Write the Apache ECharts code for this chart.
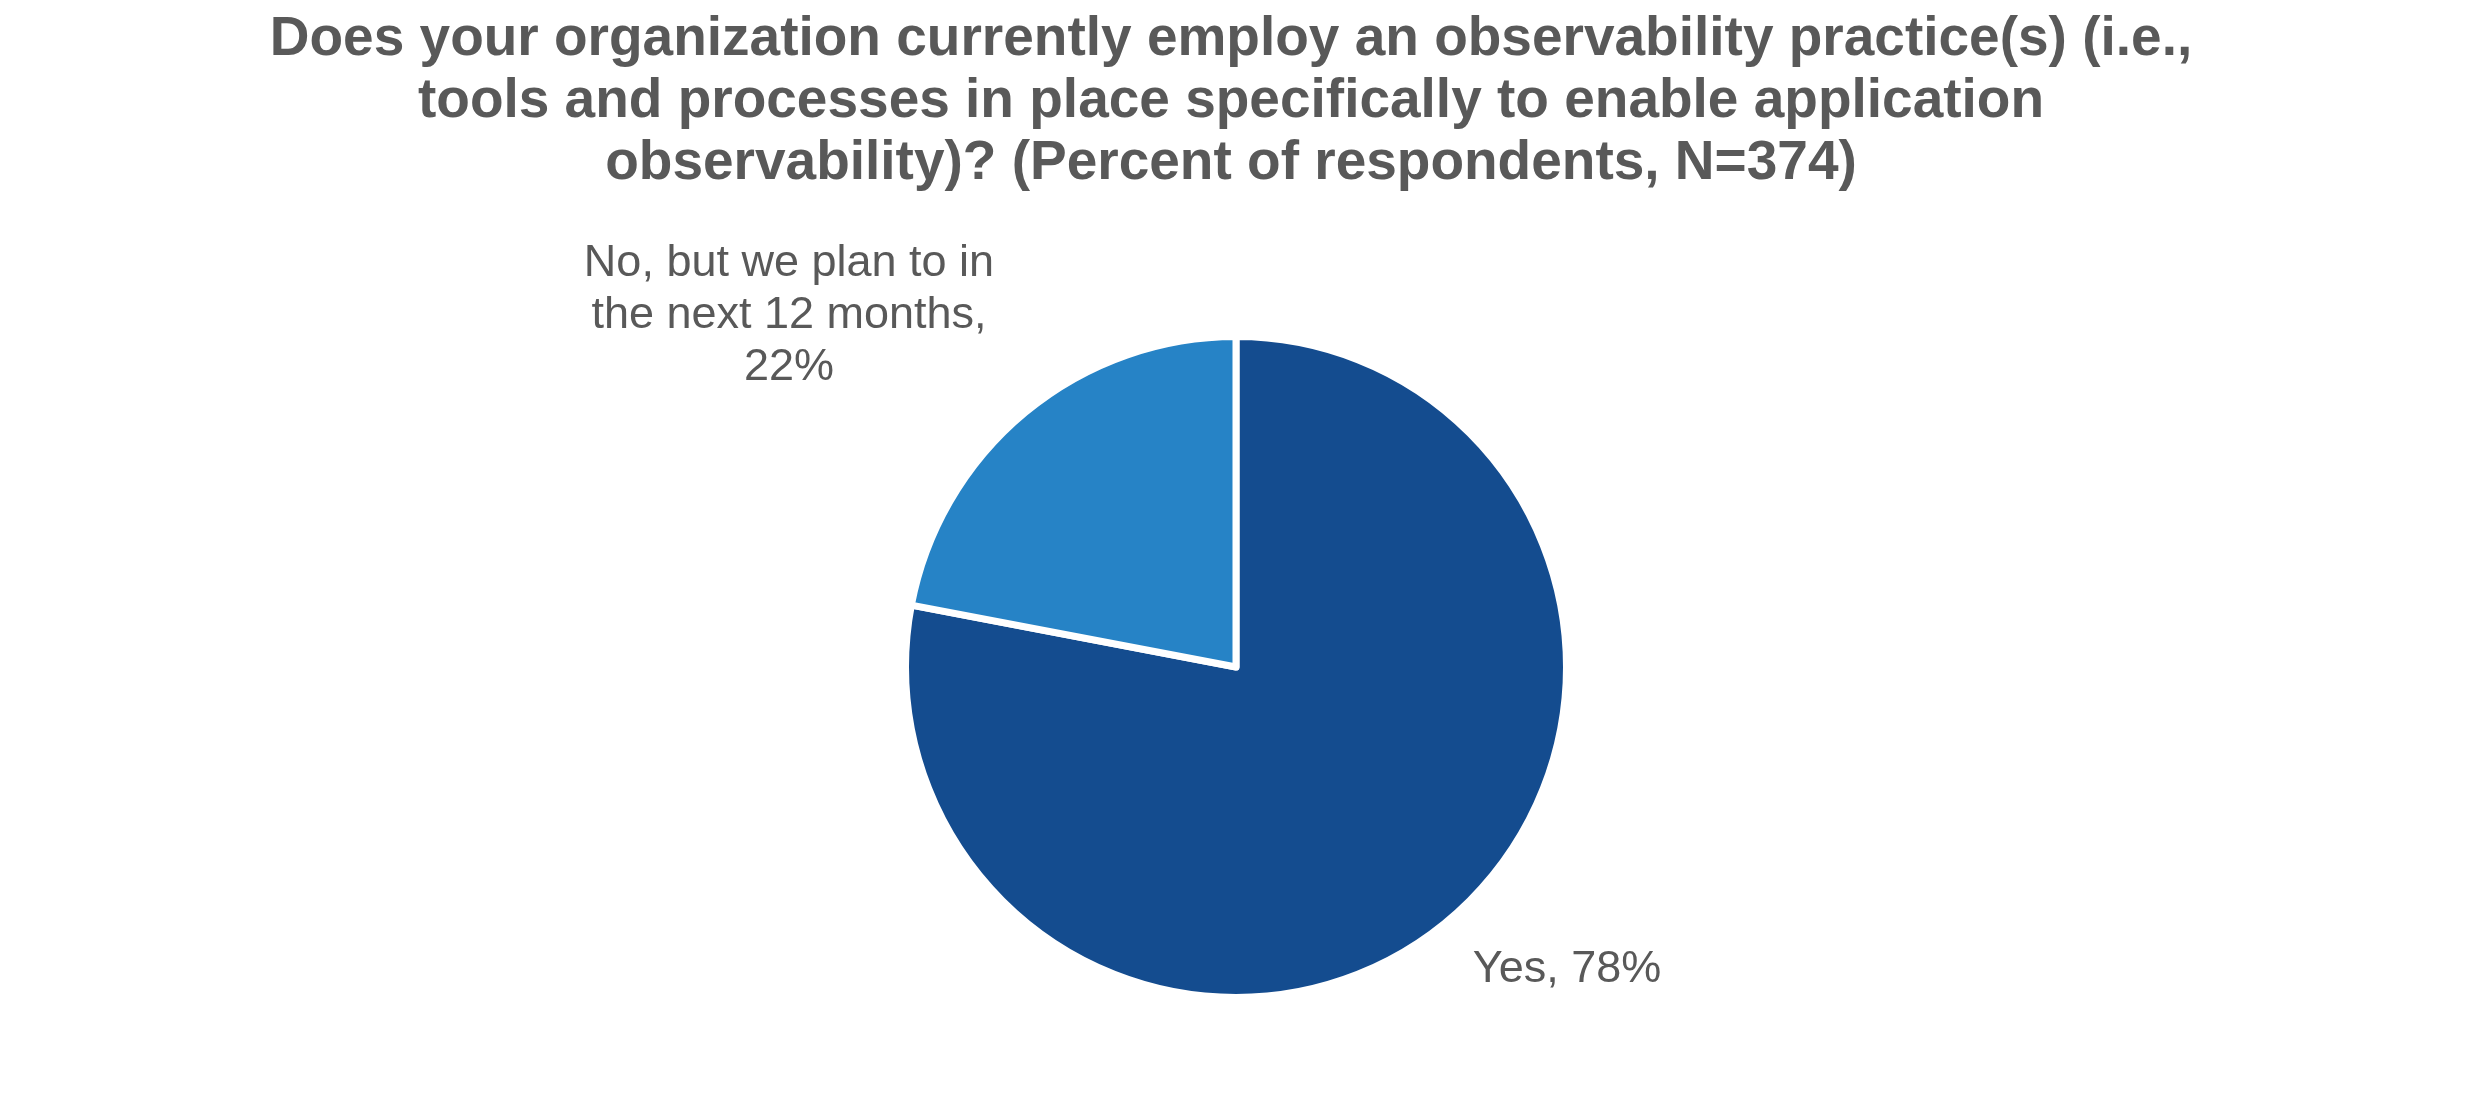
<!DOCTYPE html>
<html>
<head>
<meta charset="utf-8">
<title>Observability practice</title>
<script src="https://cdn.jsdelivr.net/npm/echarts@6/dist/echarts.min.js"></script>
<style>
  html, body { margin: 0; padding: 0; background: #fff; }
  #main { width: 2475px; height: 1109px; }
</style>
</head>
<body>
<div id="main"></div>
<script>
// survey answers, percent of respondents (N=374)
const categories = ['Yes', 'No, but we plan to in\nthe next 12 months'];
const percents = [78, 22];
const sliceColors = ['#144C8F', '#2683C6'];
// text between the answer and its percent
const labelJoins = [', ', ',\n'];

// where each answer's text sits (label centres, px)
const labelSpots = [
  { x: 1567, y: 970 },
  { x: 789, y: 316 }
];

const chart = echarts.init(document.getElementById('main'));

const option = {
  backgroundColor: '#fff',
  animation: false,
  title: {
    text: 'Does your organization currently employ an observability practice(s) (i.e.,\n' +
      'tools and processes in place specifically to enable application\n' +
      'observability)? (Percent of respondents, N=374)',
    left: 1231,
    top: 9,
    padding: 0,
    textAlign: 'center',
    textStyle: {
      fontFamily: 'Liberation Sans, Arial, sans-serif',
      fontSize: 55,
      fontWeight: 'bold',
      lineHeight: 62,
      color: '#595959'
    }
  },
  series: [{
    type: 'pie',
    center: [1236, 667],
    radius: 330.5,
    startAngle: 90,
    clockwise: true,
    avoidLabelOverlap: false,
    itemStyle: {
      borderColor: '#fff',
      borderWidth: 7
    },
    label: {
      show: true,
      position: 'outside',
      formatter: p => p.name + labelJoins[p.dataIndex] + p.value + '%',
      fontFamily: 'Liberation Sans, Arial, sans-serif',
      fontSize: 45,
      lineHeight: 52,
      color: '#595959'
    },
    labelLine: { show: false },
    labelLayout: params => ({
      x: labelSpots[params.dataIndex].x,
      y: labelSpots[params.dataIndex].y,
      align: 'center',
      verticalAlign: 'middle'
    }),
    emphasis: { disabled: true },
    data: categories.map((name, i) => ({
      name: name,
      value: percents[i],
      itemStyle: { color: sliceColors[i] }
    }))
  }]
};

chart.setOption(option);
</script>
</body>
</html>
